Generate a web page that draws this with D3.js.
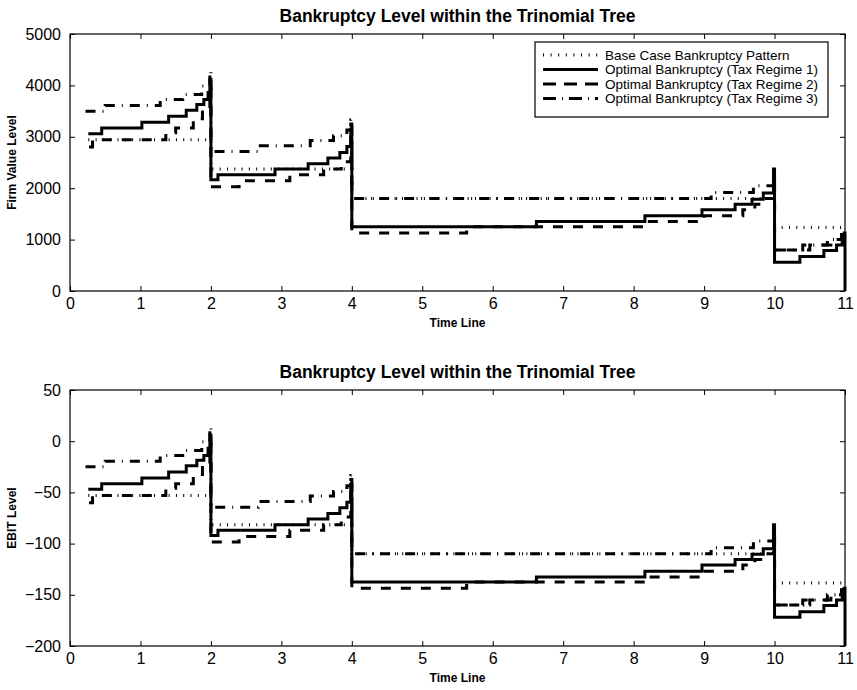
<!DOCTYPE html>
<html>
<head>
<meta charset="utf-8">
<script src="https://cdn.jsdelivr.net/npm/d3@7/dist/d3.min.js"></script>
<style>
  html, body { margin: 0; padding: 0; background: #fff; }
  svg { display: block; font-family: "Liberation Sans", Arial, Helvetica, sans-serif; }
</style>
</head>
<body>
<svg id="chart" width="857" height="690"></svg>
<script>
// ---- tick values ----
const timeTicks = [0, 1, 2, 3, 4, 5, 6, 7, 8, 9, 10, 11];
const firmTicks = [0, 1000, 2000, 3000, 4000, 5000];
const ebitTicks = [-200, -150, -100, -50, 0, 50];

const seriesNames = [
  "Base Case Bankruptcy Pattern",
  "Optimal Bankruptcy (Tax Regime 1)",
  "Optimal Bankruptcy (Tax Regime 2)",
  "Optimal Bankruptcy (Tax Regime 3)"
];

// ---- step series: [time, level], the level holds until the next time ----
// Firm value level
const firmBase = [[0.26, 2941], [2.0, 2372], [4.0, 1800], [10.0, 1234], [11.0, 1234]];
const firmRegime1 = [[0.26, 3059], [0.45, 3170], [1.02, 3281], [1.40, 3399], [1.65, 3516], [1.80, 3627],
  [1.90, 3725], [1.96, 3860], [1.985, 4120], [2.0, 2164], [2.10, 2261], [2.91, 2372], [3.38, 2476],
  [3.66, 2587], [3.83, 2696], [3.93, 2813], [3.985, 3105], [4.0, 1250], [6.62, 1350], [8.16, 1462],
  [8.97, 1579], [9.44, 1690], [9.68, 1787], [9.84, 1905], [9.985, 2372], [10.0, 559], [10.36, 669],
  [10.70, 786], [10.88, 897], [10.96, 1000], [10.99, 1130], [11.0, 0]];
const firmRegime2 = [[0.27, 2800], [0.32, 2941], [1.36, 3078], [1.50, 3170], [1.75, 3350], [1.88, 3530],
  [1.985, 3950], [2.0, 2026], [2.40, 2144], [3.12, 2261], [3.60, 2372], [3.85, 2516], [3.985, 3250],
  [4.0, 1130], [5.63, 1250], [8.20, 1350], [9.0, 1462], [9.55, 1579], [9.72, 1690], [9.85, 1800],
  [9.985, 2250], [10.0, 799], [10.50, 897], [10.80, 1000], [10.97, 1100], [11.0, 1100]];
const firmRegime3 = [[0.22, 3497], [0.50, 3608], [1.28, 3725], [1.60, 3824], [1.87, 3987], [1.985, 4281],
  [2.0, 2712], [2.67, 2824], [3.41, 2928], [3.74, 3020], [3.93, 3130], [3.985, 3330], [4.0, 1800],
  [9.10, 1916], [9.70, 2047], [9.985, 2300], [10.0, 799], [10.40, 897], [10.75, 1000], [10.95, 1100],
  [11.0, 1100]];

// EBIT level
const ebitBase = [[0.26, -53], [2.0, -81.5], [4.0, -110], [10.0, -138.5], [11.0, -138.5]];
const ebitRegime1 = [[0.26, -47], [0.45, -41.5], [1.02, -36], [1.40, -30], [1.65, -24], [1.80, -18.5],
  [1.90, -14], [1.96, -7], [1.985, 6], [2.0, -92], [2.10, -87], [2.91, -81.5], [3.38, -76],
  [3.66, -70.5], [3.83, -65], [3.93, -59.5], [3.985, -45], [4.0, -137.5], [6.62, -132.5], [8.16, -127],
  [8.97, -121], [9.44, -115.5], [9.68, -110.5], [9.84, -105], [9.985, -81.5], [10.0, -172], [10.36, -166.5],
  [10.70, -160.5], [10.88, -155], [10.96, -150], [10.99, -143.5], [11.0, -200]];
const ebitRegime2 = [[0.27, -60], [0.32, -53], [1.36, -46], [1.50, -41.5], [1.75, -32.5], [1.88, -23.5],
  [1.985, -2.5], [2.0, -98.5], [2.40, -93], [3.12, -87], [3.60, -81.5], [3.85, -74], [3.985, -37.5],
  [4.0, -143.5], [5.63, -137.5], [8.20, -132.5], [9.0, -127], [9.55, -121], [9.72, -115.5], [9.85, -110],
  [9.985, -87.5], [10.0, -160], [10.50, -155], [10.80, -150], [10.97, -145], [11.0, -145]];
const ebitRegime3 = [[0.22, -25], [0.50, -19.5], [1.28, -14], [1.60, -9], [1.87, -0.5], [1.985, 14],
  [2.0, -64.5], [2.67, -59], [3.41, -53.5], [3.74, -49], [3.93, -43.5], [3.985, -33.5], [4.0, -110],
  [9.10, -104], [9.70, -97.5], [9.985, -85], [10.0, -160], [10.40, -155], [10.75, -150], [10.95, -145],
  [11.0, -145]];

// ---- line styles (base, regime 1, regime 2, regime 3) ----
const styles = [
  { width: 3, dash: "1,6.3" },
  { width: 3, dash: null },
  { width: 3, dash: "10,10" },
  { width: 3, dash: "10,7,1,7" }
];
const legendDash = ["1,6.6", null, "13,8", "13,6,1,6"];

const svg = d3.select("#chart");
const plotLeft = 70, plotRight = 845;

const x = d3.scaleLinear().domain([0, 11]).range([plotLeft, plotRight]);
const plain = d3.format("d");

function drawPanel(cfg) {
  const y = d3.scaleLinear().domain(cfg.domain).range([cfg.bottom, cfg.top]);
  const g = svg.append("g");

  // data lines, drawn base first so the solid line sits on top
  const line = d3.line().x(d => x(d[0])).y(d => y(d[1])).curve(d3.curveStepAfter);
  const order = [0, 3, 2, 1];
  order.forEach(i => {
    const p = g.append("path")
      .datum(cfg.series[i])
      .attr("d", line)
      .attr("fill", "none")
      .attr("stroke", "#000")
      .attr("stroke-width", styles[i].width)
      .attr("stroke-linejoin", "miter")
      .attr("stroke-linecap", "butt");
    if (styles[i].dash) p.attr("stroke-dasharray", styles[i].dash);
  });

  // axes with inward ticks on all four sides
  const fontSize = "16px";
  const xb = g.append("g").attr("transform", `translate(0,${cfg.bottom})`)
    .call(d3.axisBottom(x).tickValues(timeTicks).tickFormat(plain)
      .tickSizeInner(-5).tickSizeOuter(0).tickPadding(7));
  const xt = g.append("g").attr("transform", `translate(0,${cfg.top})`)
    .call(d3.axisTop(x).tickValues(timeTicks).tickSizeInner(-5).tickSizeOuter(0).tickFormat(""));
  const yl = g.append("g").attr("transform", `translate(${plotLeft},0)`)
    .call(d3.axisLeft(y).tickValues(cfg.ticks).tickFormat(plain)
      .tickSizeInner(-5).tickSizeOuter(0).tickPadding(9));
  const yr = g.append("g").attr("transform", `translate(${plotRight},0)`)
    .call(d3.axisRight(y).tickValues(cfg.ticks).tickSizeInner(-5).tickSizeOuter(0).tickFormat(""));
  [xb, xt, yl, yr].forEach(a => {
    a.select(".domain").remove();
    a.selectAll("line").attr("stroke", "#000").attr("stroke-width", 1);
    a.selectAll("text").attr("fill", "#000").style("font-size", fontSize)
      .style("font-family", '"Liberation Sans", Arial, Helvetica, sans-serif');
  });

  // plot frame
  g.append("rect")
    .attr("x", plotLeft).attr("y", cfg.top)
    .attr("width", plotRight - plotLeft).attr("height", cfg.bottom - cfg.top)
    .attr("fill", "none").attr("stroke", "#000").attr("stroke-width", 1.2);

  // title and axis labels
  g.append("text")
    .attr("x", (plotLeft + plotRight) / 2).attr("y", cfg.top - 12)
    .attr("text-anchor", "middle")
    .style("font-size", "17.5px").style("font-weight", "bold")
    .text("Bankruptcy Level within the Trinomial Tree");
  g.append("text")
    .attr("x", (plotLeft + plotRight) / 2).attr("y", cfg.bottom + 36)
    .attr("text-anchor", "middle")
    .style("font-size", "12px").style("font-weight", "bold")
    .text("Time Line");
  g.append("text")
    .attr("transform", `translate(16,${(cfg.top + cfg.bottom) / 2}) rotate(-90)`)
    .attr("text-anchor", "middle")
    .style("font-size", "12px").style("font-weight", "bold")
    .text(cfg.yLabel);

  return g;
}

const topPanel = drawPanel({
  top: 34, bottom: 291, domain: [0, 5000], ticks: firmTicks, yLabel: "Firm Value Level",
  series: [firmBase, firmRegime1, firmRegime2, firmRegime3]
});
drawPanel({
  top: 390, bottom: 646, domain: [-200, 50], ticks: ebitTicks, yLabel: "EBIT Level",
  series: [ebitBase, ebitRegime1, ebitRegime2, ebitRegime3]
});

// legend in the upper panel
const lg = topPanel.append("g");
const lx = 535, ly = 42, lw = 293, lh = 75;
lg.append("rect").attr("x", lx).attr("y", ly).attr("width", lw).attr("height", lh)
  .attr("fill", "#fff").attr("stroke", "#000").attr("stroke-width", 1.2);
const rowY = [55, 69.5, 84, 98.5];
seriesNames.forEach((name, i) => {
  const s = lg.append("line")
    .attr("x1", 543).attr("x2", 598).attr("y1", rowY[i]).attr("y2", rowY[i])
    .attr("stroke", "#000").attr("stroke-width", 3);
  if (legendDash[i]) s.attr("stroke-dasharray", legendDash[i]);
  lg.append("text")
    .attr("x", 605).attr("y", rowY[i]).attr("dy", "0.35em")
    .style("font-size", "13.5px")
    .text(name);
});
</script>
</body>
</html>
